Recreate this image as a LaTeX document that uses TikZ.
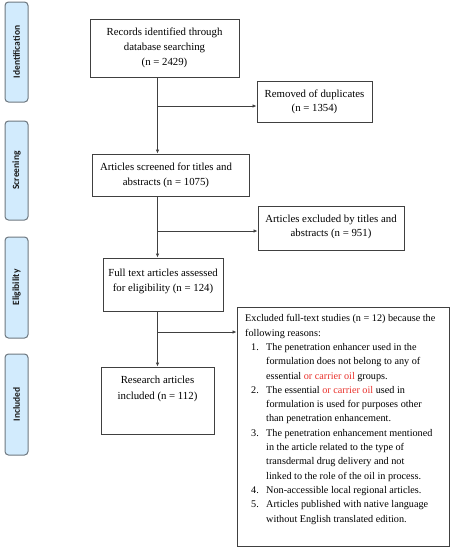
\documentclass[tikz,border=0pt]{standalone}
\usepackage{fontspec}
\setmainfont{Liberation Serif}
\newfontfamily\labfont{Carlito}
\usetikzlibrary{arrows.meta}
\definecolor{sidefill}{HTML}{D2EBFD}
\definecolor{sidedraw}{HTML}{6E7880}
\definecolor{boxline}{HTML}{404040}
\definecolor{redtxt}{HTML}{E8302A}
\begin{document}
\begin{tikzpicture}[x=1pt,y=-1pt,
  sidebox/.style={draw=sidedraw,fill=sidefill,line width=1pt,rounded corners=3.5pt,minimum width=23pt,inner sep=0pt},
  sidetext/.style={rotate=90,font=\labfont\bfseries\fontsize{9.5}{11}\selectfont,text=black!90},
  flowbox/.style={draw=boxline,line width=0.9pt,inner sep=0pt},
  flowtext/.style={align=center,font=\fontsize{10.8}{15}\selectfont,inner sep=0pt},
  arr/.style={draw=boxline,line width=0.8pt,-{Latex[length=4pt,width=3.5pt]}}]
\useasboundingbox (0,0) rectangle (452,550);
% side labels
\node[sidebox,minimum height=100pt] (sid) at (16.5,52) {};
\node[sidetext] (sidt) at (sid.center) {Identification};
\node[sidebox,minimum height=99pt] (sscr) at (16.5,170.5) {};
\node[sidetext] (sscrt) at (sscr.center) {Screening};
\node[sidebox,minimum height=101pt] (selig) at (16.5,287.5) {};
\node[sidetext] (seligt) at (selig.center) {Eligibility};
\node[sidebox,minimum height=101pt] (sinc) at (16.5,404.5) {};
\node[sidetext] (sinct) at (sinc.center) {Included};
% boxes
\node[flowbox,minimum width=149pt,minimum height=58pt] (rec) at (164.5,48) {};
\node[flowtext] (rect) at (164.5,48) {Records identified through\\database searching\\(n = 2429)};
\node[flowbox,minimum width=115pt,minimum height=41pt] (rem) at (314.5,101.5) {};
\node[flowtext,font=\fontsize{10.8}{14}\selectfont] (remt) at (314.5,102) {Removed of duplicates\\(n = 1354)};
\node[flowbox,minimum width=157pt,minimum height=42pt] (scr) at (170.5,175) {};
\node[flowtext] (scrt) at (166,175.5) {Articles screened for titles and\\abstracts (n = 1075)};
\node[flowbox,minimum width=146pt,minimum height=44pt] (exa) at (331,228) {};
\node[flowtext,font=\fontsize{10.8}{14}\selectfont] (exat) at (331,227) {Articles excluded by titles and\\abstracts (n = 951)};
\node[flowbox,minimum width=120pt,minimum height=53pt] (full) at (163,284.5) {};
\node[flowtext] (fullt) at (163,281.5) {Full text articles assessed\\for eligibility (n = 124)};
\node[flowbox,minimum width=113pt,minimum height=67pt] (res) at (157.5,400.5) {};
\node[flowtext,font=\fontsize{10.8}{16}\selectfont] (rest) at (157.5,389) {Research articles\\included (n = 112)};
\node[flowbox,minimum width=212pt,minimum height=239pt] (exb) at (343,426.5) {};
\node[anchor=north west,align=left,inner sep=0pt,font=\fontsize{10.2}{14.3}\selectfont] (exbt) at (245,314.5) {%
Excluded full-text studies (n = 12) because the\\
following reasons:\\
\hspace*{6pt}\makebox[15pt][l]{1.}The penetration enhancer used in the\\
\hspace*{21pt}formulation does not belong to any of\\
\hspace*{21pt}essential \textcolor{redtxt}{or carrier oil} groups.\\
\hspace*{6pt}\makebox[15pt][l]{2.}The essential \textcolor{redtxt}{or carrier oil} used in\\
\hspace*{21pt}formulation is used for purposes other\\
\hspace*{21pt}than penetration enhancement.\\
\hspace*{6pt}\makebox[15pt][l]{3.}The penetration enhancement mentioned\\
\hspace*{21pt}in the article related to the type of\\
\hspace*{21pt}transdermal drug delivery and not\\
\hspace*{21pt}linked to the role of the oil in process.\\
\hspace*{6pt}\makebox[15pt][l]{4.}Non-accessible local regional articles.\\
\hspace*{6pt}\makebox[15pt][l]{5.}Articles published with native language\\
\hspace*{21pt}without English translated edition.};
% connectors
\coordinate (vx) at (157.5,0);
\coordinate (b1) at (157.5,106);
\coordinate (b2) at (157.5,231);
\coordinate (b3) at (157.5,332);
\draw[arr] (rec.south -| vx) -- (scr.north -| vx);
\draw[arr] (b1) -- (rem.west |- b1);
\draw[arr] (scr.south -| vx) -- (full.north -| vx);
\draw[arr] (b2) -- (exa.west |- b2);
\draw[arr] (full.south -| vx) -- (res.north -| vx);
\draw[arr] (b3) -- (exb.west |- b3);
\end{tikzpicture}
\end{document}
